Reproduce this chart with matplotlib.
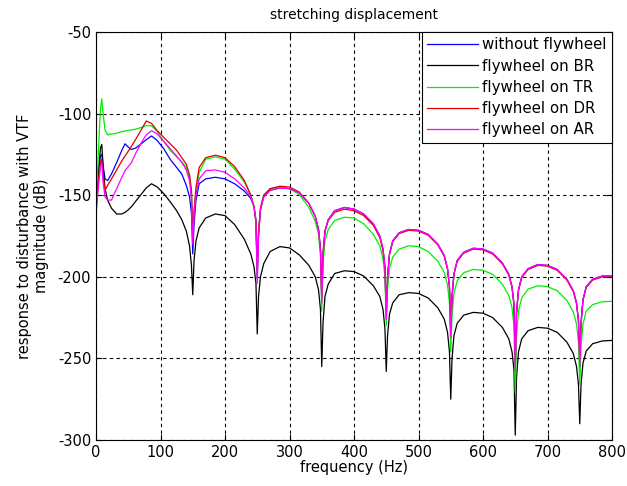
import matplotlib
matplotlib.use("Agg")
import matplotlib.pyplot as plt

freq = [0, 2, 5, 7, 9, 11, 14, 18, 24, 32, 40, 45, 50, 55, 62, 70, 78, 86, 95, 105, 115, 125, 133, 140, 145, 148, 150,
        152, 155, 160, 170, 185, 200, 215, 230, 240, 245, 248, 250,
        252, 255, 260, 270, 285, 300, 315, 330, 340, 345, 348, 350,
        352, 355, 360, 370, 385, 400, 415, 430, 440, 445, 448, 450,
        452, 455, 460, 470, 485, 500, 515, 530, 540, 545, 548, 550,
        552, 555, 560, 570, 585, 600, 615, 630, 640, 645, 648, 650,
        652, 655, 660, 670, 685, 700, 715, 730, 740, 745, 748, 750,
        752, 755, 760, 770, 785, 800]

without_flywheel = [
    -152, -143, -132, -126, -125, -132, -140, -141, -137, -130, -122.5, -118.5, -120.5, -122, -121, -118.5, -116, -113.7,
    -116.5, -121.5, -128, -133, -137, -144, -151, -161, -186,
    -168, -153, -143, -140, -139, -140, -143, -147.5, -152, -157, -165, -201,
    -174, -159, -151, -147, -145.5, -146, -148.5, -155, -163, -171, -183, -214,
    -186, -172, -165, -159.5, -157.5, -158.5, -161.5, -167.5, -175, -183, -194, -224,
    -200, -186, -178, -173, -171, -171.5, -174, -180, -187, -195, -206, -235,
    -212, -198, -190, -185, -182.5, -183, -185.5, -191.5, -198.5, -206, -217, -254,
    -222, -208, -200, -195, -192.5, -193, -195.5, -201.5, -208.5, -216, -227, -252,
    -228, -214, -206, -201.5, -199.5, -199.5]

flywheel_BR = [
    -156, -145, -130, -121, -119, -132, -146, -153, -158, -161.5, -161.5, -160.5, -159, -157, -153.5, -149.5, -145.5, -143,
    -145, -149, -154, -159.5, -165, -172, -181, -193, -211,
    -190, -178, -170, -164, -161.5, -162.5, -168, -177, -186, -194, -204, -235,
    -212, -200, -192, -184.5, -181.5, -182.3, -186.5, -193, -200, -208, -220, -255,
    -228, -212, -204.5, -198, -196.3, -196.8, -199.5, -205.5, -212, -220, -232, -258,
    -236, -223, -216, -211, -209.7, -210.2, -213, -219, -226, -234, -246, -275,
    -250, -236, -228.5, -223.5, -221.8, -222.3, -225, -231, -238, -246, -257, -297,
    -262, -246, -238, -233, -231, -231.5, -234, -240, -247, -255, -266, -290,
    -266, -253, -245.5, -241, -239.3, -239]

flywheel_TR = [
    -158, -140, -112, -97, -91, -100, -110, -113, -112.5, -112, -111, -110.7, -110.3, -110, -109.5, -108.5, -107.3, -107.5,
    -111, -117, -122.5, -126.5, -129.5, -133, -139, -149, -175,
    -160, -148, -136, -128, -126.5, -128, -134, -142, -150, -157, -167, -198,
    -173, -158, -150, -146, -145, -146, -149.5, -157.5, -166, -174, -186, -221,
    -192, -178, -171, -165.5, -163.5, -164, -167.5, -174, -181, -189, -200, -230,
    -208, -195, -188, -183, -181, -181.5, -184.5, -190.5, -197.5, -205, -216, -246,
    -224, -210, -202.5, -197.5, -195.5, -196, -198.5, -204.5, -211.5, -219, -230, -271,
    -236, -221, -213, -207.5, -205.5, -206, -208.5, -214.5, -221.5, -229, -240, -266,
    -243, -229, -221, -217, -215.3, -215]

flywheel_DR = [
    -160, -150, -137, -130, -128, -138, -147, -144, -140, -134.5, -129, -126, -123, -120, -115.5, -110, -104.5, -106,
    -110.5, -114.5, -118.5, -122.5, -127, -131, -137.5, -147, -175,
    -160, -145, -133, -127, -125.5, -127, -132.5, -141, -150, -157, -167, -196,
    -172, -158, -150, -146, -144.5, -145, -148, -155, -163, -171, -183, -212,
    -185, -172, -165.5, -160.5, -158.5, -159.5, -162.5, -168.5, -176, -184, -195, -222,
    -200, -186.5, -178.5, -173.5, -171.5, -172, -174.5, -180.5, -187.5, -195.5, -206, -233,
    -212, -198.5, -190.5, -185.5, -183, -183.5, -186, -192, -199, -206.5, -217, -252,
    -222, -208.5, -200.5, -195.5, -193, -193.5, -196, -202, -209, -216.5, -227, -250,
    -228, -214.5, -206.5, -202, -200, -200]

flywheel_AR = [
    -163, -152, -140, -132, -130, -142, -151, -153, -153, -146, -139, -135, -132.5, -130, -124, -118, -113, -110.5,
    -112.5, -117, -121.5, -126, -130, -134.5, -141, -152, -180,
    -162, -150, -140, -135, -134.5, -136, -140, -145.5, -151, -157, -166, -204,
    -176, -159, -151, -147, -145.5, -146, -148.5, -155, -163, -171, -184, -216,
    -188, -172, -165, -159.5, -157.5, -158.5, -161.5, -167.5, -175, -183, -194, -226,
    -202, -186, -178, -173, -171, -171.5, -174, -180, -187, -195, -206, -237,
    -212, -198, -190, -185, -182.5, -183, -185.5, -191.5, -198.5, -206, -217, -258,
    -222, -208, -200, -195, -192.5, -193, -195.5, -201.5, -208.5, -216, -227, -255,
    -230, -214, -206, -201.5, -199.5, -199.5]

labels = ["without flywheel", "flywheel on BR", "flywheel on TR", "flywheel on DR", "flywheel on AR"]
colors = ["#0000ff", "#000000", "#00ee00", "#dd0000", "#ff00ff"]
series = [without_flywheel, flywheel_BR, flywheel_TR, flywheel_DR, flywheel_AR]

x_ticks = [0, 100, 200, 300, 400, 500, 600, 700, 800]
y_ticks = [-300, -250, -200, -150, -100, -50]

plt.rcParams['font.family'] = ['DejaVu Sans']
plt.rcParams['axes.unicode_minus'] = False

fig = plt.figure(figsize=(6.27, 4.86), dpi=100)
ax = fig.add_axes([96/627, 1 - 440/486, (612-96)/627, (440-32)/486])

for s, c, l in zip(series, colors, labels):
    ax.plot(freq, s, color=c, lw=0.9, label=l)

ax.set_xlim(0, 800)
ax.set_ylim(-300, -50)
ax.set_xticks(x_ticks)
ax.set_yticks(y_ticks)
ax.grid(True, color='black', linestyle=(0, (3, 3)), linewidth=0.8)
ax.tick_params(direction='in', length=4, top=True, right=True, labelsize=10.5, colors='black')
for sp in ax.spines.values():
    sp.set_color('black')
    sp.set_linewidth(0.8)

ax.set_title("stretching displacement", fontsize=10, pad=9)
ax.set_xlabel("frequency (Hz)", fontsize=10.5, labelpad=0)
ax.set_ylabel("response to disturbance with VTF\nmagnitude (dB)", fontsize=10.5, labelpad=6)

leg = ax.legend(loc='upper right', fontsize=10.8, borderaxespad=0, fancybox=False, framealpha=1,
                edgecolor='black', handlelength=3.4, labelspacing=0.42, handletextpad=0.3, borderpad=0.35)
leg.get_frame().set_linewidth(0.8)

fig.savefig("out.png", dpi=100)
